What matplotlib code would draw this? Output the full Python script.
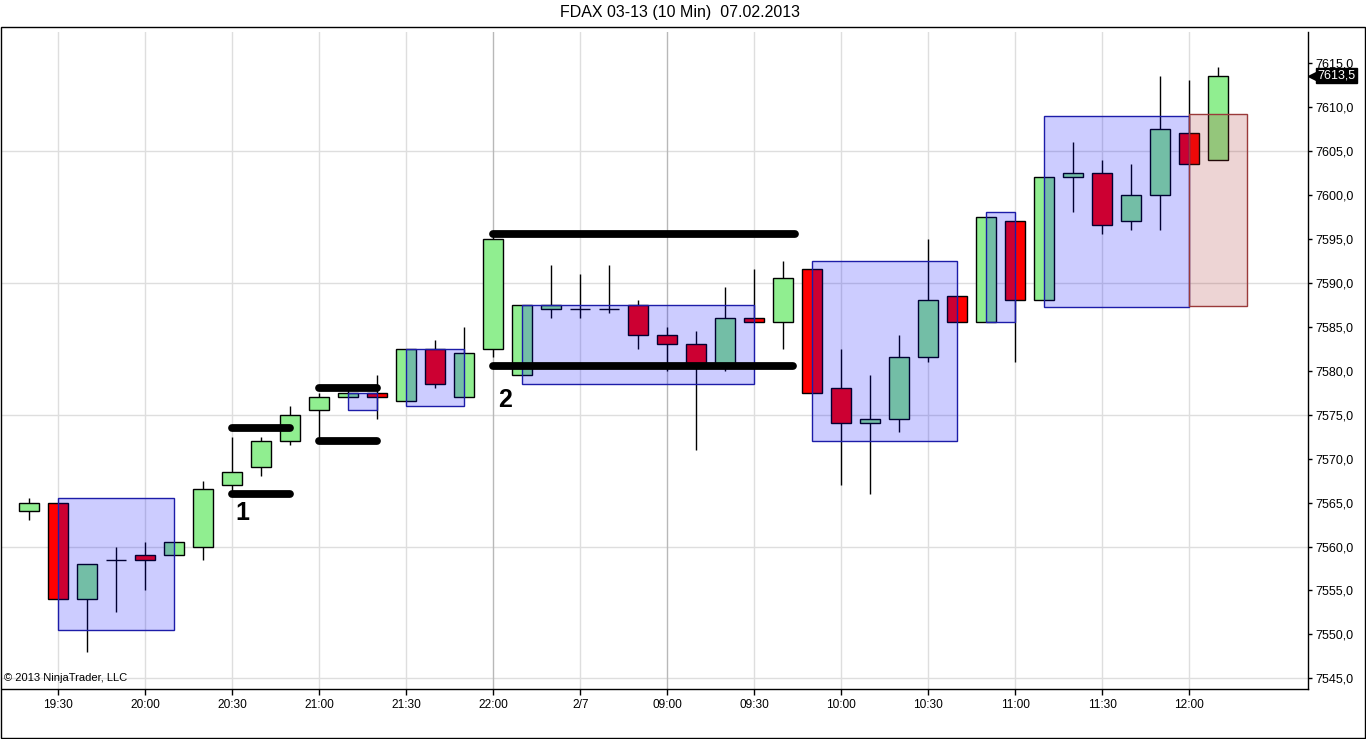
import matplotlib
matplotlib.use('Agg')
import matplotlib.pyplot as plt
from matplotlib.patches import Rectangle
from matplotlib.ticker import MultipleLocator, FuncFormatter
import numpy as np

plt.rcParams['font.family'] = ['Liberation Sans', 'DejaVu Sans']

# 10-min bars, FDAX 03-13
opens = [7564, 7565, 7554, 7558.5, 7559, 7559, 7560, 7567, 7569, 7572,
         7575.5, 7577, 7577.5, 7576.5, 7582.5, 7577, 7582.5, 7579.5, 7587, 7587,
         7587, 7587.5, 7584, 7583, 7580.5, 7586, 7585.5, 7591.5, 7578, 7574,
         7574.5, 7581.5, 7588.5, 7585.5, 7597, 7588, 7602, 7602.5, 7597, 7600,
         7607, 7604]
highs = [7565.5, 7565, 7558, 7560, 7560.5, 7560.5, 7567.5, 7572.5, 7572.5, 7576,
         7577.5, 7578, 7579.5, 7582.5, 7583.5, 7585, 7595.5, 7587.5, 7592, 7591,
         7592, 7588, 7585, 7584.5, 7589.5, 7591.5, 7592.5, 7591.5, 7582.5, 7579.5,
         7584, 7595, 7588.5, 7597.5, 7597, 7602, 7606, 7604, 7603.5, 7613.5,
         7613, 7614.5]
lows = [7563, 7554, 7548, 7552.5, 7555, 7559, 7558.5, 7566, 7568, 7571.5,
        7572, 7577, 7574.5, 7576.5, 7578, 7577, 7581.5, 7579.5, 7586, 7586,
        7586.5, 7582.5, 7580, 7571, 7580, 7585.5, 7582.5, 7577.5, 7567, 7566,
        7573, 7581, 7585.5, 7585.5, 7581, 7588, 7598, 7595.5, 7596, 7596,
        7603.5, 7604]
closes = [7565, 7554, 7558, 7558.5, 7558.5, 7560.5, 7566.5, 7568.5, 7572, 7575,
          7577, 7577.5, 7577, 7582.5, 7578.5, 7582, 7595, 7587.5, 7587.5, 7587,
          7587, 7584, 7583, 7580.5, 7586, 7585.5, 7590.5, 7577.5, 7574, 7574.5,
          7581.5, 7588, 7585.5, 7597.5, 7588, 7602, 7602.5, 7596.5, 7600, 7607.5,
          7603.5, 7613.5]

tick_bars = [1, 4, 7, 10, 13, 16, 19, 22, 25, 28, 31, 34, 37, 40]
tick_labels = ['19:30', '20:00', '20:30', '21:00', '21:30', '22:00', '2/7',
               '09:00', '09:30', '10:00', '10:30', '11:00', '11:30', '12:00']

# boxes: (first bar, last bar, low, high)
blue_boxes = [(1, 5, 7550.5, 7565.5), (11, 12, 7575.5, 7577.5), (13, 15, 7576, 7582.5),
              (17, 25, 7578.5, 7587.5), (27, 32, 7572, 7592.5), (33, 34, 7585.5, 7598),
              (35, 40, 7587.2, 7609)]
red_box = (40, 42, 7587.3, 7609.2)

# drawn levels: (from bar, to bar, price)
levels = [(7, 9, 7573.5), (7, 9, 7566), (10, 12, 7578), (10, 12, 7572),
          (16, 26.4, 7595.5), (16, 26.35, 7580.5)]
marks = [('1', 7.35, 7563.8), ('2', 16.4, 7576.7)]
last_price = 7613.5

fig = plt.figure(figsize=(13.66, 7.39), dpi=100)
ax = fig.add_axes([2 / 1366, 50 / 739, 1306 / 1366, 657 / 739])

x = np.arange(len(opens))
o = np.array(opens)
c = np.array(closes)
cols = np.where(c >= o, '#90EE90', '#FF0000')

ax.vlines(x, lows, highs, color='black', lw=1, zorder=2)
ax.bar(x, c - o, bottom=o, width=0.69, color=cols, edgecolor='black', linewidth=1, zorder=3)

for b0, b1, lo, hi in blue_boxes:
    ax.add_patch(Rectangle((b0, lo), b1 - b0, hi - lo, fc=(0, 0, 1, 0.2), ec='#1c1ca8', lw=1, zorder=4))
b0, b1, lo, hi = red_box
ax.add_patch(Rectangle((b0, lo), b1 - b0, hi - lo, fc=(0.65, 0.16, 0.16, 0.2), ec='#9a3a3a', lw=1, zorder=4))

for a, b, y in levels:
    ax.plot([a, b], [y, y], color='black', lw=5.6, solid_capstyle='round', zorder=6)
for t, xm, ym in marks:
    ax.text(xm, ym, t, fontsize=18, fontweight='heavy', ha='center', va='center', zorder=7)

ax.set_xlim(-0.94, 44.1)
ax.set_ylim(7543.8, 7618.5)

# grid
for g in np.arange(7545, 7620, 15):
    ax.axhline(g, color='#dedede', lw=1, zorder=0)
for tb in tick_bars:
    gc = '#b8b8b8' if tb in (16, 22) else '#dedede'
    ax.axvline(tb, color=gc, lw=1, zorder=0)

ax.set_xticks(tick_bars)
ax.set_xticklabels(tick_labels)
ax.yaxis.tick_right()
ax.yaxis.set_major_locator(MultipleLocator(5))
ax.yaxis.set_major_formatter(FuncFormatter(lambda v, p: f'{v:.1f}'.replace('.', ',')))
ax.tick_params(axis='x', length=4.3, width=1, pad=3, labelsize=8.6, colors='black')
ax.tick_params(axis='y', length=3, width=1, pad=2.5, labelsize=9, colors='black')

for s in ('left', 'top'):
    ax.spines[s].set_visible(False)
ax.spines['right'].set_linewidth(1)
ax.spines['bottom'].set_linewidth(1)

# last price marker
ytr = ax.get_yaxis_transform()
ax.plot([1.0035], [last_price], marker='<', ms=7.5, color='black', transform=ytr, clip_on=False, zorder=8)
ax.text(1.0072, last_price, f'{last_price:.1f}'.replace('.', ','), transform=ytr, color='white',
        fontsize=9, ha='left', va='center', zorder=9,
        bbox=dict(boxstyle='square,pad=0.12', fc='black', ec='black'))

ax.text(0.0015, 0.009, '\u00a9 2013 NinjaTrader, LLC', transform=ax.transAxes, fontsize=8, ha='left', va='bottom')

# outer frame and title
fig.add_artist(Rectangle((1 / 1366, 1.5 / 739), 1363.5 / 1366, 710.5 / 739, transform=fig.transFigure,
                         fill=False, ec='black', lw=1))
fig.text(680 / 1366, 1 - 13 / 739, 'FDAX 03-13 (10 Min)  07.02.2013', ha='center', va='center', fontsize=11.5)

fig.savefig('out.png', dpi=100)
